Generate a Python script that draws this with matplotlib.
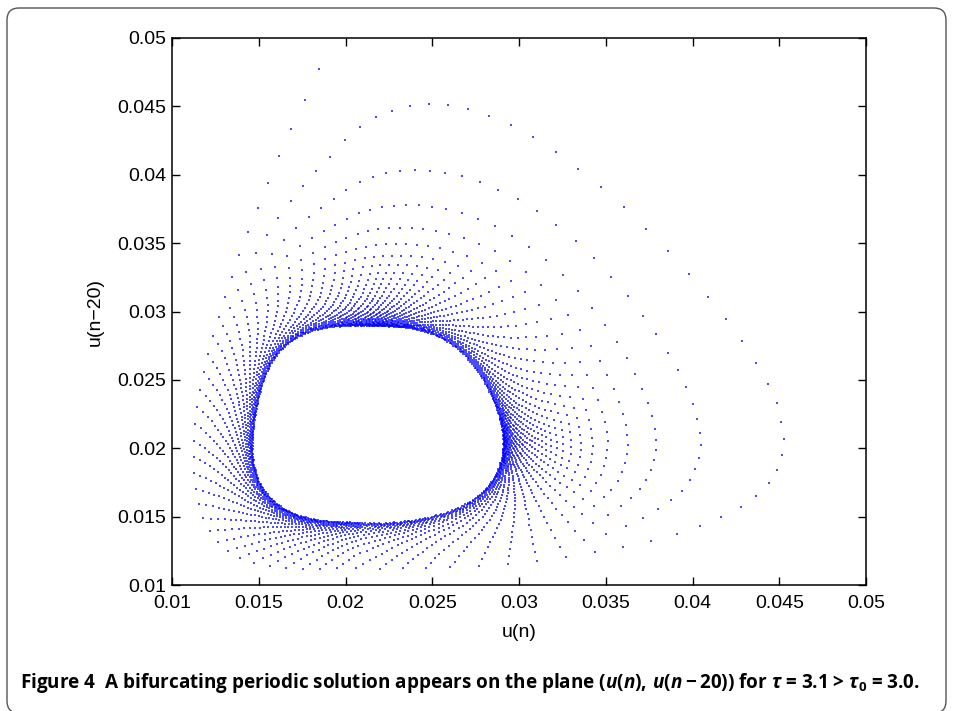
import numpy as np
import matplotlib
matplotlib.use("Agg")
import matplotlib.pyplot as plt
from matplotlib.patches import FancyBboxPatch
from matplotlib.transforms import IdentityTransform

# ---- orbit data -------------------------------------------------------
# first turn of the orbit, n = 0 .. 78: points (u(n), u(n-20))
u_first = [0.01849, 0.01767, 0.01688, 0.01618, 0.01553, 0.01494, 0.01438, 0.01390,
           0.01348, 0.01307, 0.01271, 0.01239, 0.01210, 0.01184, 0.01164, 0.01147,
           0.01135, 0.01127, 0.01124, 0.01127, 0.01135, 0.01153, 0.01179, 0.01213,
           0.01259, 0.01317, 0.01386, 0.01467, 0.01553, 0.01646, 0.01744, 0.01841,
           0.01939, 0.02043, 0.02182, 0.02314, 0.02447, 0.02585, 0.02746, 0.02914,
           0.03081, 0.03248, 0.03415, 0.03576, 0.03738, 0.03888, 0.04026, 0.04147,
           0.04262, 0.04354, 0.04429, 0.04481, 0.04516, 0.04527, 0.04516, 0.04493,
           0.04447, 0.04383, 0.04305, 0.04216, 0.04112, 0.04003, 0.03882, 0.03761,
           0.03634, 0.03501, 0.03369, 0.03242, 0.03110, 0.02983, 0.02856, 0.02735,
           0.02620, 0.02510, 0.02401, 0.02297, 0.02199, 0.02107, 0.02020]
v_first = [0.04771, 0.04549, 0.04337, 0.04137, 0.03945, 0.03759, 0.03586, 0.03418,
           0.03260, 0.03108, 0.02967, 0.02828, 0.02693, 0.02561, 0.02433, 0.02309,
           0.02185, 0.02060, 0.01943, 0.01826, 0.01709, 0.01600, 0.01494, 0.01399,
           0.01318, 0.01252, 0.01201, 0.01165, 0.01143, 0.01128, 0.01121, 0.01117,
           0.01121, 0.01124, 0.01117, 0.01124, 0.01124, 0.01128, 0.01139, 0.01154,
           0.01176, 0.01197, 0.01234, 0.01271, 0.01314, 0.01366, 0.01424, 0.01483,
           0.01556, 0.01636, 0.01731, 0.01826, 0.01929, 0.02046, 0.02163, 0.02302,
           0.02441, 0.02594, 0.02748, 0.02909, 0.03069, 0.03238, 0.03406, 0.03567,
           0.03728, 0.03874, 0.04013, 0.04137, 0.04254, 0.04342, 0.04415, 0.04473,
           0.04503, 0.04517, 0.04510, 0.04481, 0.04437, 0.04371, 0.04298]

# outline of the attracting periodic orbit
u_cycle = [0.02070, 0.01910, 0.01755, 0.01622, 0.01548, 0.01496, 0.01484, 0.01490,
           0.01548, 0.01663, 0.01813, 0.02084, 0.02430, 0.02620, 0.02775, 0.02860,
           0.02885, 0.02875, 0.02833, 0.02758, 0.02643, 0.02487, 0.02297]
v_cycle = [0.02872, 0.02860, 0.02813, 0.02667, 0.02500, 0.02280, 0.02038, 0.01863,
           0.01694, 0.01570, 0.01497, 0.01468, 0.01497, 0.01570, 0.01694, 0.01841,
           0.01987, 0.02155, 0.02353, 0.02520, 0.02696, 0.02813, 0.02865]

centre_u, centre_v = 0.0219, 0.0217   # equilibrium
steps_per_turn = len(u_first)
phase_gain = 0.0035                   # extra phase gained per turn
contraction = 0.944                   # per turn, on 1 - (R/r)^2
n_steps = 3800

x_ticks = [0.01, 0.015, 0.02, 0.025, 0.03, 0.035, 0.04, 0.045, 0.05]
x_tick_labels = ["0.01", "0.015", "0.02", "0.025", "0.03", "0.035", "0.04", "0.045", "0.05"]
y_ticks = x_ticks
y_tick_labels = x_tick_labels

# ---- build the orbit --------------------------------------------------
ry = 13675.0 / 17350.0   # vertical/horizontal scale of the plane


def polar(u, v):
    x = np.asarray(u) - centre_u
    y = (np.asarray(v) - centre_v) * ry
    return np.arctan2(y, x), np.hypot(x, y)


# smooth radius of the periodic orbit as a function of angle (Fourier fit)
th_c, r_c = polar(u_cycle, v_cycle)
harm = 6


def design(t):
    cols = [np.ones_like(t)]
    for h in range(1, harm + 1):
        cols += [np.cos(h * t), np.sin(h * t)]
    return np.stack(cols, axis=1)


coef, *_ = np.linalg.lstsq(design(th_c), r_c, rcond=None)


def cycle_radius(t):
    return design(np.atleast_1d(t)) @ coef


th_f, r_f = polar(u_first, v_first)
th_f = np.unwrap(th_f)
nodes = np.arange(steps_per_turn + 1) / steps_per_turn
theta_nodes = np.append(th_f, th_f[0] + 2 * np.pi)
amp = r_f / cycle_radius(th_f)
g_first = 1.0 - 1.0 / amp ** 2
g0 = g_first / contraction ** (np.arange(steps_per_turn) / steps_per_turn)
g_nodes = np.append(g0, g0[0])

n = np.arange(n_steps)
turns = n * (1.0 + phase_gain) / steps_per_turn
phase = turns % 1.0
theta = np.interp(phase, nodes, theta_nodes)
g = np.interp(phase, nodes, g_nodes) * contraction ** turns
radius = cycle_radius(theta) / np.sqrt(1.0 - g)
u_orbit = centre_u + radius * np.cos(theta)
v_orbit = centre_v + radius * np.sin(theta) / ry

# ---- figure -----------------------------------------------------------
plt.rcParams["font.family"] = ["Liberation Sans", "DejaVu Sans"]
plt.rcParams["mathtext.fontset"] = "custom"
plt.rcParams["mathtext.rm"] = "Open Sans:bold"
plt.rcParams["mathtext.it"] = "Open Sans:bold:italic"
plt.rcParams["mathtext.bf"] = "Open Sans:bold"

fig = plt.figure(figsize=(9.54, 7.11), dpi=100)
ax = fig.add_axes([172 / 954, 1 - 585 / 711, 694 / 954, 547 / 711])

ax.scatter(u_orbit, v_orbit, s=0.55, marker="s", c="#0000ff", linewidths=0, alpha=0.7)

ax.set_xlim(0.01, 0.05)
ax.set_ylim(0.01, 0.05)
ax.set_xticks(x_ticks)
ax.set_xticklabels(x_tick_labels)
ax.set_yticks(y_ticks)
ax.set_yticklabels(y_tick_labels)
ax.tick_params(direction="in", length=6, width=1, top=True, right=True,
               labelsize=14, colors="black")
ax.tick_params(axis="x", pad=7.5)
ax.tick_params(axis="y", pad=4)
for s in ax.spines.values():
    s.set_linewidth(1.1)
ax.set_xlabel("u(n)", fontsize=14, labelpad=8)
ax.set_ylabel("u(n\u221220)", fontsize=14, labelpad=10)

caption = (r"Figure 4  A bifurcating periodic solution appears on the plane "
           r"$(u(n),\,u(n-20))$ for $\tau$ = 3.1 > $\tau_0$ = 3.0.")
fig.text(20 / 954, 1 - 683 / 711, caption, fontsize=13.6, fontweight="bold",
         family="Open Sans", va="center", ha="left")

frame = FancyBboxPatch((7, -2), 939, 705, boxstyle="round,pad=0,rounding_size=12",
                       transform=IdentityTransform(), fill=False,
                       edgecolor="#555555", linewidth=1.0)
fig.add_artist(frame)

fig.savefig("out.png", dpi=100)
